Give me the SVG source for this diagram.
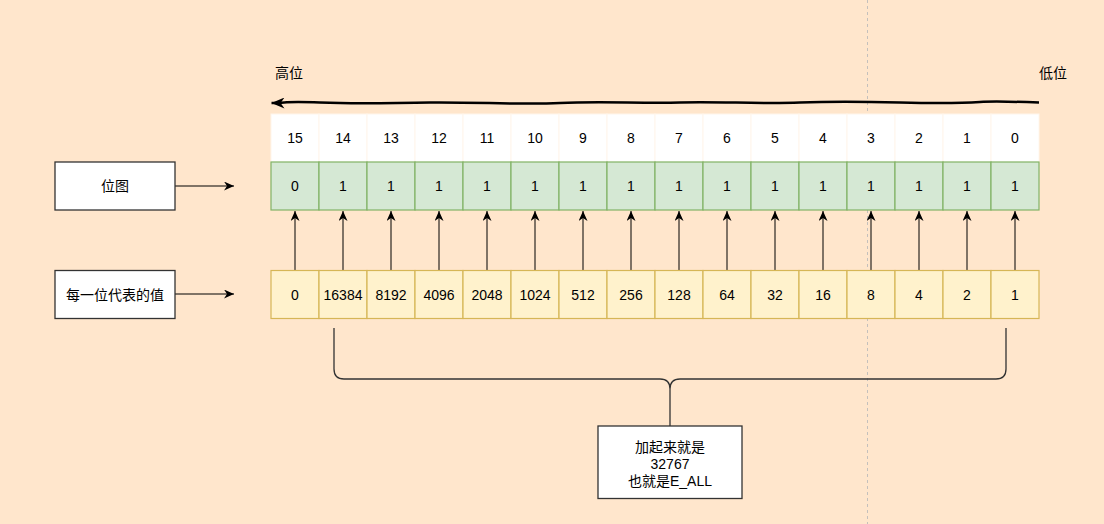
<svg xmlns="http://www.w3.org/2000/svg" width="1104" height="524" viewBox="0 0 1104 524">
<defs>
<marker id="arr" viewBox="0 0 10 10" refX="10" refY="5" markerWidth="10" markerHeight="9" markerUnits="userSpaceOnUse" orient="auto" preserveAspectRatio="none">
<path d="M0,0 L10,5 L0,10 L3,5 z" fill="#000"/>
</marker>
<marker id="arrBig" viewBox="0 0 10 10" refX="10" refY="5" markerWidth="13" markerHeight="11" markerUnits="userSpaceOnUse" orient="auto" preserveAspectRatio="none">
<path d="M0,0 L10,5 L0,10 L3,5 z" fill="#000"/>
</marker>
</defs>
<style>
text{font-family:"Liberation Sans","Noto Sans CJK SC",sans-serif;font-size:14px;fill:#000;text-anchor:middle}
.idx{fill:#fff;stroke:#fff6ec;stroke-width:1}
.bit{fill:#d5e8d4;stroke:#82b366;stroke-width:1.2}
.val{fill:#fff2cc;stroke:#d6b656;stroke-width:1.2}
.box{fill:#fff;stroke:#333;stroke-width:1.3}
.con{fill:none;stroke:#000;stroke-width:1}
</style>
<rect width="1104" height="524" fill="#ffe6cc"/>
<line x1="867.5" y1="0" x2="867.5" y2="524" stroke="#c4c0bc" stroke-dasharray="3,3" stroke-width="1"/>
<text x="289" y="78">高位</text>
<text x="1053" y="78">低位</text>
<g id="connectors">
<path d="M1039,102.5 C1010,101.5 995,101 980,102 S940,103.5 900,102.5 S840,101 800,102.5 S720,101.5 680,102.5 S600,101 560,103 S480,102 430,102.5 S360,104 320,102.5 S290,103 271.5,103" fill="none" stroke="#000" stroke-width="2.5" marker-end="url(#arrBig)"/>
<line class="con" x1="175" y1="186" x2="234" y2="186" marker-end="url(#arr)"/>
<line class="con" x1="175" y1="294" x2="234" y2="294" marker-end="url(#arr)"/>
<g id="up-arrows" class="con">
<line x1="295" y1="270" x2="295" y2="211" marker-end="url(#arr)"/>
<line x1="343" y1="270" x2="343" y2="211" marker-end="url(#arr)"/>
<line x1="391" y1="270" x2="391" y2="211" marker-end="url(#arr)"/>
<line x1="439" y1="270" x2="439" y2="211" marker-end="url(#arr)"/>
<line x1="487" y1="270" x2="487" y2="211" marker-end="url(#arr)"/>
<line x1="535" y1="270" x2="535" y2="211" marker-end="url(#arr)"/>
<line x1="583" y1="270" x2="583" y2="211" marker-end="url(#arr)"/>
<line x1="631" y1="270" x2="631" y2="211" marker-end="url(#arr)"/>
<line x1="679" y1="270" x2="679" y2="211" marker-end="url(#arr)"/>
<line x1="727" y1="270" x2="727" y2="211" marker-end="url(#arr)"/>
<line x1="775" y1="270" x2="775" y2="211" marker-end="url(#arr)"/>
<line x1="823" y1="270" x2="823" y2="211" marker-end="url(#arr)"/>
<line x1="871" y1="270" x2="871" y2="211" marker-end="url(#arr)"/>
<line x1="919" y1="270" x2="919" y2="211" marker-end="url(#arr)"/>
<line x1="967" y1="270" x2="967" y2="211" marker-end="url(#arr)"/>
<line x1="1015" y1="270" x2="1015" y2="211" marker-end="url(#arr)"/>
</g>
<path d="M334,328 V369 Q334,379 344,379 H660 Q670,379 670,389 V426 M1006,328 V369 Q1006,379 996,379 H680 Q670,379 670,389" fill="none" stroke="#333" stroke-width="1.3"/>
</g>
<g id="node-bitmap-label"><rect class="box" x="55" y="162" width="120" height="48"/><text x="115" y="191">位图</text></g>
<g id="node-value-label"><rect class="box" x="55" y="270.5" width="120" height="48"/><text x="115" y="299.5">每一位代表的值</text></g>
<g id="node-index-row">
<rect class="idx" x="271" y="114" width="48" height="48"/><text x="295" y="143">15</text>
<rect class="idx" x="319" y="114" width="48" height="48"/><text x="343" y="143">14</text>
<rect class="idx" x="367" y="114" width="48" height="48"/><text x="391" y="143">13</text>
<rect class="idx" x="415" y="114" width="48" height="48"/><text x="439" y="143">12</text>
<rect class="idx" x="463" y="114" width="48" height="48"/><text x="487" y="143">11</text>
<rect class="idx" x="511" y="114" width="48" height="48"/><text x="535" y="143">10</text>
<rect class="idx" x="559" y="114" width="48" height="48"/><text x="583" y="143">9</text>
<rect class="idx" x="607" y="114" width="48" height="48"/><text x="631" y="143">8</text>
<rect class="idx" x="655" y="114" width="48" height="48"/><text x="679" y="143">7</text>
<rect class="idx" x="703" y="114" width="48" height="48"/><text x="727" y="143">6</text>
<rect class="idx" x="751" y="114" width="48" height="48"/><text x="775" y="143">5</text>
<rect class="idx" x="799" y="114" width="48" height="48"/><text x="823" y="143">4</text>
<rect class="idx" x="847" y="114" width="48" height="48"/><text x="871" y="143">3</text>
<rect class="idx" x="895" y="114" width="48" height="48"/><text x="919" y="143">2</text>
<rect class="idx" x="943" y="114" width="48" height="48"/><text x="967" y="143">1</text>
<rect class="idx" x="991" y="114" width="48" height="48"/><text x="1015" y="143">0</text>
</g>
<g id="node-bit-row">
<rect class="bit" x="271" y="162" width="48" height="48"/><text x="295" y="191">0</text>
<rect class="bit" x="319" y="162" width="48" height="48"/><text x="343" y="191">1</text>
<rect class="bit" x="367" y="162" width="48" height="48"/><text x="391" y="191">1</text>
<rect class="bit" x="415" y="162" width="48" height="48"/><text x="439" y="191">1</text>
<rect class="bit" x="463" y="162" width="48" height="48"/><text x="487" y="191">1</text>
<rect class="bit" x="511" y="162" width="48" height="48"/><text x="535" y="191">1</text>
<rect class="bit" x="559" y="162" width="48" height="48"/><text x="583" y="191">1</text>
<rect class="bit" x="607" y="162" width="48" height="48"/><text x="631" y="191">1</text>
<rect class="bit" x="655" y="162" width="48" height="48"/><text x="679" y="191">1</text>
<rect class="bit" x="703" y="162" width="48" height="48"/><text x="727" y="191">1</text>
<rect class="bit" x="751" y="162" width="48" height="48"/><text x="775" y="191">1</text>
<rect class="bit" x="799" y="162" width="48" height="48"/><text x="823" y="191">1</text>
<rect class="bit" x="847" y="162" width="48" height="48"/><text x="871" y="191">1</text>
<rect class="bit" x="895" y="162" width="48" height="48"/><text x="919" y="191">1</text>
<rect class="bit" x="943" y="162" width="48" height="48"/><text x="967" y="191">1</text>
<rect class="bit" x="991" y="162" width="48" height="48"/><text x="1015" y="191">1</text>
</g>
<g id="node-value-row">
<rect class="val" x="271" y="270.5" width="48" height="48"/><text x="295" y="299.5">0</text>
<rect class="val" x="319" y="270.5" width="48" height="48"/><text x="343" y="299.5">16384</text>
<rect class="val" x="367" y="270.5" width="48" height="48"/><text x="391" y="299.5">8192</text>
<rect class="val" x="415" y="270.5" width="48" height="48"/><text x="439" y="299.5">4096</text>
<rect class="val" x="463" y="270.5" width="48" height="48"/><text x="487" y="299.5">2048</text>
<rect class="val" x="511" y="270.5" width="48" height="48"/><text x="535" y="299.5">1024</text>
<rect class="val" x="559" y="270.5" width="48" height="48"/><text x="583" y="299.5">512</text>
<rect class="val" x="607" y="270.5" width="48" height="48"/><text x="631" y="299.5">256</text>
<rect class="val" x="655" y="270.5" width="48" height="48"/><text x="679" y="299.5">128</text>
<rect class="val" x="703" y="270.5" width="48" height="48"/><text x="727" y="299.5">64</text>
<rect class="val" x="751" y="270.5" width="48" height="48"/><text x="775" y="299.5">32</text>
<rect class="val" x="799" y="270.5" width="48" height="48"/><text x="823" y="299.5">16</text>
<rect class="val" x="847" y="270.5" width="48" height="48"/><text x="871" y="299.5">8</text>
<rect class="val" x="895" y="270.5" width="48" height="48"/><text x="919" y="299.5">4</text>
<rect class="val" x="943" y="270.5" width="48" height="48"/><text x="967" y="299.5">2</text>
<rect class="val" x="991" y="270.5" width="48" height="48"/><text x="1015" y="299.5">1</text>
</g>
<g id="node-sum"><rect class="box" x="598" y="426" width="144" height="72.5"/>
<text x="670" y="451.5">加起来就是</text>
<text x="670" y="468.5">32767</text>
<text x="670" y="485.5">也就是E_ALL</text>
</g>
</svg>
